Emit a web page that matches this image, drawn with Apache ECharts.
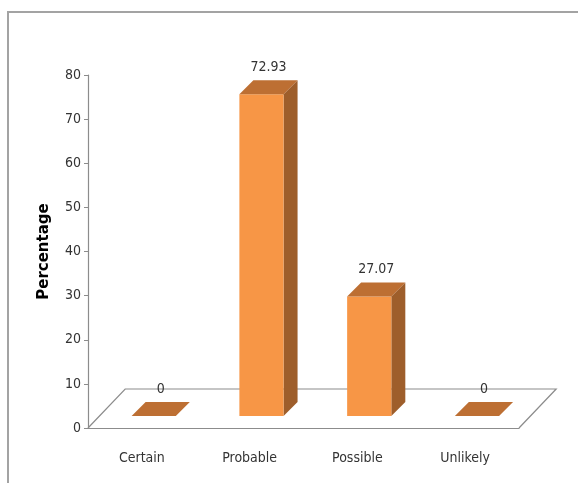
<!DOCTYPE html>
<html lang="en">
  <head>
    <meta charset="UTF-8" />
    <title>Percentage</title>
    <style>
      * {
        padding: 0;
        margin: 0;
      }
      body { background: #fff; }
    </style>
    <script src="https://cdn.jsdelivr.net/npm/echarts@6/dist/echarts.min.js"></script>
  </head>
  <body>
    <div id="main" style="width: 578px; height: 483px;"></div>
    <script type="text/javascript">
      var categories = ['Certain', 'Probable', 'Possible', 'Unlikely'];
      var values = [0, 72.93, 27.07, 0];
      var yTicks = [0, 10, 20, 30, 40, 50, 60, 70, 80];

      var narrow = "'Liberation Sans Narrow', 'DejaVu Sans Condensed', sans-serif";
      var lineGrey = '#8c8c8c';

      var myChart = echarts.init(document.getElementById('main'));

      // floor of the 3d plot (back edge + side edges)
      function renderFloor(params, api) {
        var cs = params.coordSys;
        var dx = cs.width / categories.length * 0.345;
        var dy = -39;
        var fl = [cs.x, cs.y + cs.height];
        var fr = [cs.x + cs.width, cs.y + cs.height];
        return {
          type: 'polyline',
          shape: {
            points: [fl, [fl[0] + dx, fl[1] + dy], [fr[0] + dx, fr[1] + dy], fr]
          },
          style: { stroke: lineGrey, lineWidth: 1.2, fill: null }
        };
      }

      function renderBar(params, api) {
        var cat = api.value(0);
        var v = api.value(1);
        var base = api.coord([cat, 0]);
        var top = api.coord([cat, v]);
        var bw = api.size([1, 0])[0];
        var fw = bw * 0.41;
        var off = bw * 0.11;
        var d = 14;
        var x0 = base[0] + off - fw / 2;
        var x1 = x0 + fw;
        var yb = base[1] - 12;
        var yt = top[1] - 12;
        var children = [];
        if (v > 0) {
          children.push({
            type: 'polygon',
            shape: { points: [[x1, yt], [x1 + d, yt - d], [x1 + d, yb - d], [x1, yb]] },
            style: { fill: '#9e5e2b' }
          });
          children.push({
            type: 'rect',
            shape: { x: x0, y: yt, width: fw, height: yb - yt },
            style: { fill: '#f79646' }
          });
        }
        children.push({
          type: 'polygon',
          shape: { points: [[x0, yt], [x1, yt], [x1 + d, yt - d], [x0 + d, yt - d]] },
          style: { fill: '#bd6f33' }
        });
        children.push({
          type: 'text',
          style: {
            text: String(values[params.dataIndex]),
            x: (x0 + x1 + d) / 2,
            y: yt - d - 6,
            align: 'center',
            verticalAlign: 'bottom',
            font: '14px ' + narrow,
            fill: '#333'
          }
        });
        return { type: 'group', children: children };
      }

      var option = {
        animation: false,
        backgroundColor: '#fff',
        graphic: [
          {
            type: 'rect',
            shape: { x: 8, y: 12, width: 620, height: 520 },
            style: { fill: null, stroke: '#a3a3a3', lineWidth: 2 }
          }
        ],
        grid: { left: 88, top: 75, right: 59, bottom: 55 },
        xAxis: {
          type: 'category',
          data: categories,
          axisLine: { lineStyle: { color: lineGrey, width: 1.2 } },
          axisTick: { length: 5, lineStyle: { color: lineGrey } },
          axisLabel: {
            margin: 23,
            fontSize: 14,
            fontFamily: narrow,
            color: '#333'
          }
        },
        yAxis: {
          type: 'value',
          min: yTicks[0],
          max: yTicks[yTicks.length - 1],
          interval: 10,
          name: 'Percentage',
          nameLocation: 'middle',
          nameGap: 36,
          nameTextStyle: {
            fontSize: 15,
            fontWeight: 'bold',
            fontFamily: "'DejaVu Sans', sans-serif",
            color: '#000'
          },
          splitLine: { show: false },
          axisLine: { show: true, lineStyle: { color: lineGrey, width: 1.2 } },
          axisTick: { show: true, length: 4, lineStyle: { color: lineGrey } },
          axisLabel: {
            margin: 7,
            fontSize: 14,
            fontFamily: narrow,
            color: '#333'
          }
        },
        series: [
          {
            type: 'custom',
            z: 1,
            renderItem: renderFloor,
            data: [[0, 0]],
            silent: true
          },
          {
            type: 'custom',
            z: 2,
            renderItem: renderBar,
            data: values.map(function (v, i) { return [i, v]; })
          }
        ]
      };

      myChart.setOption(option, true);
    </script>
  </body>
</html>
